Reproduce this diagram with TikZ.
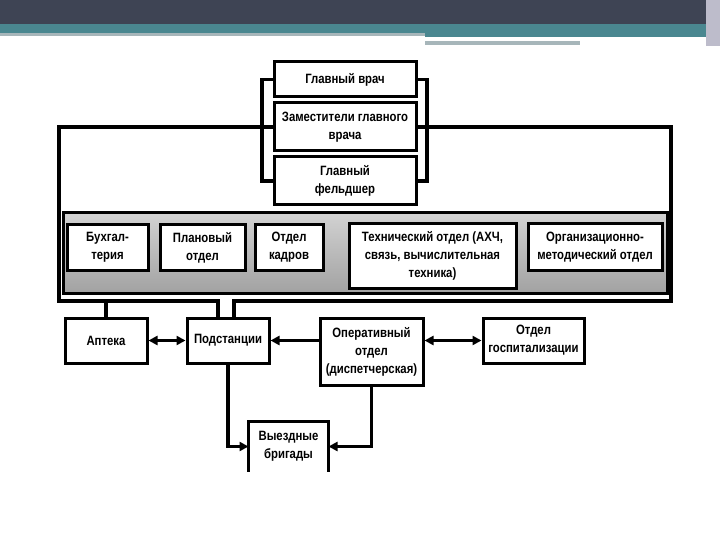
\documentclass[tikz,border=0pt]{standalone}
\usepackage{fontspec}
\setmainfont{Liberation Sans}[FakeStretch=0.84]
\usetikzlibrary{arrows.meta,positioning}
\definecolor{HeadDark}{HTML}{3E4454}
\definecolor{HeadTeal}{HTML}{4A8790}
\definecolor{HeadGrey}{HTML}{A7B6BA}
\definecolor{HeadSide}{HTML}{BDBCCB}
\definecolor{BandLight}{HTML}{D2D2D2}
\definecolor{BandDark}{HTML}{A2A2A2}

\begin{document}
\begin{tikzpicture}[x=1pt,y=-1pt,
    unit/.style={draw,line width=3pt,fill=white,align=center,inner sep=1pt,
      font=\bfseries\fontsize{13.5}{18}\selectfont},
    link/.style={line width=3.2pt},
    arr/.style={link,-{Triangle[length=9pt,width=9pt]}},
    both/.style={link,{Triangle[length=9pt,width=9pt]}-{Triangle[length=9pt,width=9pt]}}]
    \useasboundingbox (0,0) rectangle (720,540);
    \fill[white] (0,0) rectangle (720,540);
    % slide header
    \fill[HeadDark] (0,0) rectangle (720,24);
    \fill[HeadTeal] (0,24) rectangle (706,33);
    \fill[HeadGrey] (0,33) rectangle (425,36);
    \fill[HeadTeal] (425,33) rectangle (706,37);
    \fill[HeadGrey] (425,41) rectangle (580,45);
    \fill[HeadSide] (706,0) rectangle (720,46);
    % grey band of departments
    \draw[line width=3pt,top color=BandLight,bottom color=BandDark] (63,213) rectangle (667,293);
    % top of the hierarchy
    \node[unit,minimum width=142pt,minimum height=35pt] (chief) at (345,79.5) {Главный врач};
    \node[unit,minimum width=142pt,minimum height=48pt] (deputy) at (345,127) {Заместители главного\\врача};
    \node[unit,minimum width=142pt,minimum height=48pt] (feldsher) at (345,181) {Главный\\фельдшер};
    % departments
    \node[unit,minimum width=81pt,minimum height=45pt] (buh) at (107.5,247.5) {Бухгал-\\терия};
    \node[unit,minimum width=85pt,minimum height=45pt] (plan) at (202.5,247.5) {Плановый\\отдел};
    \node[unit,minimum width=68pt,minimum height=45pt] (kadry) at (289,247.5) {Отдел\\кадров};
    \node[unit,minimum width=167pt,minimum height=64pt] (tech) at (432.5,256) {Технический отдел (АХЧ,\\связь, вычислительная\\техника)};
    \node[unit,minimum width=134pt,minimum height=46pt] (org) at (595,247) {Организационно-\\методический отдел};
    % lower units
    \node[unit,minimum width=82pt,minimum height=45pt] (apteka) at (106,340.5) {Аптека};
    \node[unit,minimum width=82pt,minimum height=45pt] (podst) at (228,340.5) {Подстанции};
    \node[unit,minimum width=103pt,minimum height=67pt] (oper) at (371.5,351.5) {Оперативный\\отдел\\(диспетчерская)};
    \node[unit,minimum width=101pt,minimum height=45pt] (gosp) at (533.5,340.5) {Отдел\\госпитализации};
    \node[unit,draw=none,minimum width=77pt,minimum height=47pt] (vyezd) at (288.5,446.5) {Выездные\\бригады};
    \draw[line width=3pt] (vyezd.south west) -- (vyezd.north west) -- (vyezd.north east) -- (vyezd.south east);
    % brackets round the chief's office
    \draw[link] (chief.west) -- (262,79.5) -- (262,181) -- (feldsher.west);
    \draw[link] (chief.east) -- (427,79.5) -- (427,181) -- (feldsher.east);
    % frame round the departments
    \coordinate (leftdrop) at (218,301);
    \coordinate (rightdrop) at (234,301);
    \coordinate (aptdrop) at (106,301);
    \draw[link] (deputy.west) -- (59,127) -- (59,301) -- (leftdrop) -- (leftdrop |- podst.north);
    \draw[link] (deputy.east) -- (671,127) -- (671,301) -- (rightdrop) -- (rightdrop |- podst.north);
    \draw[link] (aptdrop) -- (apteka.north);
    % links between the lower units
    \draw[both] (apteka.east) -- (podst.west);
    \draw[arr] (oper.west |- podst.east) -- (podst.east);
    \draw[both] (oper.east |- gosp.west) -- (gosp.west);
    \draw[arr] (podst.south) -- (podst.south |- vyezd.west) -- (vyezd.west);
    \draw[arr] (oper.south) -- (oper.south |- vyezd.east) -- (vyezd.east);
\end{tikzpicture}
\end{document}
